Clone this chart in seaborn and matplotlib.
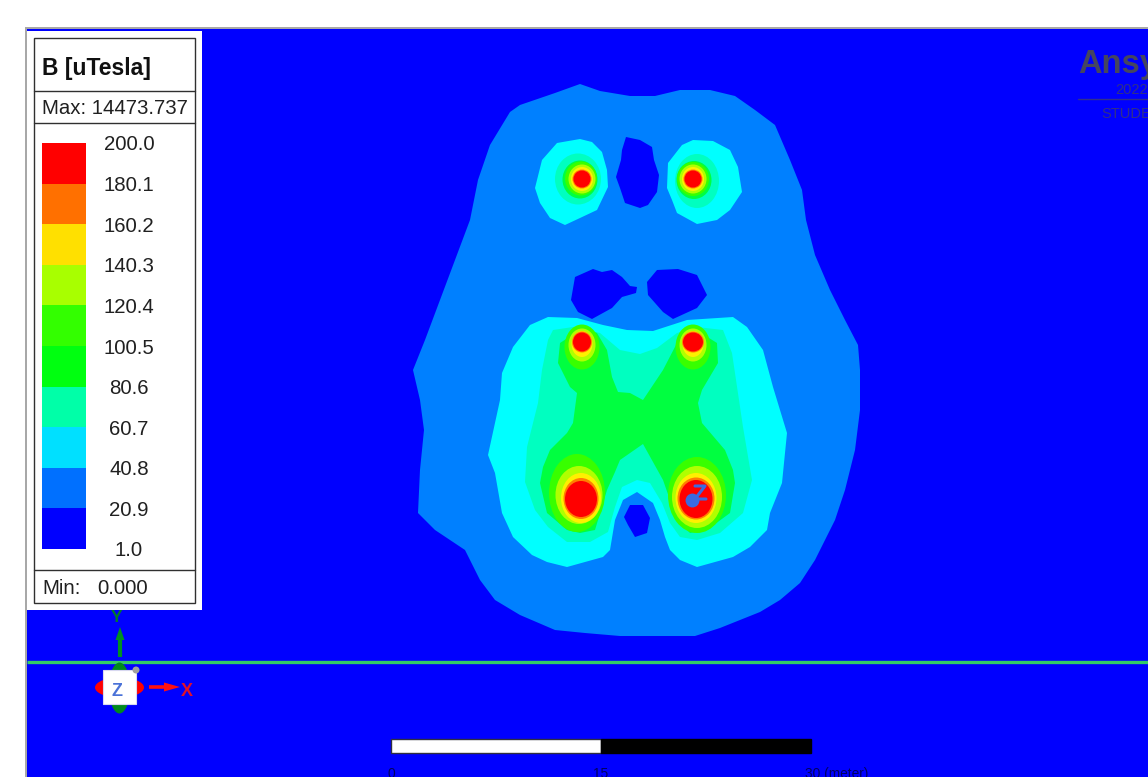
import numpy as np
import seaborn as sns
import matplotlib.pyplot as plt
from matplotlib.colors import ListedColormap
from matplotlib.patches import Ellipse, Rectangle

# legend
legend_labels = ['200.0', '180.1', '160.2', '140.3', '120.4', '100.5', '80.6', '60.7', '40.8', '20.9', '1.0']
legend_colors = ['#FF0000', '#FF7000', '#FFE000', '#A8FF00', '#33FF00', '#00FF10', '#00FFA8', '#00E0FF', '#0070FF', '#0000FF']
# field colours by band, low to high
band_colors = ['#0000FF', '#0080FF', '#00FFFF', '#00FFC0', '#00FF40', '#38FF00', '#B0FF00', '#FFF000', '#FF8000', '#FF0000']

# contour outlines, picture pixels
outer_band1 = [(580, 84), (600, 91), (630, 96), (655, 96), (680, 90), (710, 90), (735, 96), (755, 110), (775, 125),
               (790, 160), (802, 190), (806, 220), (815, 255), (830, 290), (845, 320), (858, 345), (860, 370),
               (860, 410), (855, 450), (845, 490), (835, 520), (815, 560), (800, 583), (780, 600), (760, 612),
               (720, 628), (695, 636), (620, 636), (585, 633), (555, 630), (520, 615), (495, 600), (480, 580),
               (465, 550), (435, 530), (418, 513), (420, 470), (424, 430), (420, 400), (413, 370), (425, 340),
               (440, 300), (455, 260), (470, 220), (478, 180), (490, 145), (510, 112), (520, 105), (555, 93)]
hole_eyes = [(626, 137), (640, 140), (652, 147), (654, 160), (659, 175), (657, 192), (648, 205), (640, 208),
             (625, 203), (620, 188), (616, 177), (621, 160), (622, 150)]
hole_left = [(593, 269), (602, 272), (612, 270), (622, 277), (630, 286), (637, 287), (636, 293), (622, 297),
             (612, 308), (592, 319), (578, 312), (571, 300), (575, 277)]
hole_right = [(657, 270), (678, 269), (697, 275), (707, 295), (697, 308), (673, 319), (663, 312), (648, 295), (647, 282)]
hole_low = [(630, 505), (643, 505), (650, 518), (647, 533), (635, 537), (628, 525), (624, 517)]

eye_left_band2 = [(580, 139), (592, 142), (602, 152), (607, 170), (608, 187), (597, 210), (580, 218), (565, 225),
                  (550, 218), (540, 203), (535, 188), (542, 160), (557, 143)]
eye_right_band2 = [(682, 145), (693, 140), (713, 141), (730, 150), (738, 167), (742, 192), (730, 210), (717, 220),
                   (697, 224), (677, 213), (672, 200), (667, 188), (668, 163)]

body_band2 = [(530, 325), (548, 317), (577, 318), (603, 325), (627, 330), (653, 331), (687, 320), (733, 317),
              (747, 327), (763, 350), (773, 387), (787, 433), (782, 483), (770, 513), (767, 530), (750, 547),
              (733, 557), (697, 567), (680, 560), (670, 550), (665, 537), (660, 520), (653, 503), (637, 492),
              (623, 500), (615, 520), (610, 550), (603, 557), (567, 567), (547, 562), (532, 555), (513, 537),
              (502, 513), (495, 473), (488, 455), (500, 400), (502, 373), (513, 347)]
body_band3 = [(553, 330), (573, 327), (600, 333), (620, 350), (640, 354), (657, 348), (677, 333), (697, 327),
              (723, 330), (732, 353), (743, 427), (752, 480), (743, 513), (720, 533), (697, 540), (680, 537),
              (670, 523), (662, 503), (650, 483), (637, 480), (622, 487), (615, 507), (608, 532), (590, 542),
              (567, 542), (548, 527), (535, 510), (525, 482), (527, 447), (538, 403), (542, 370), (548, 340)]
body_band4 = [(583, 328), (560, 343), (558, 363), (570, 387), (577, 393), (573, 423), (567, 433), (550, 450),
              (543, 467), (540, 483), (547, 513), (567, 530), (580, 533), (595, 530), (607, 490), (615, 472),
              (620, 460), (643, 444), (653, 462), (663, 480), (670, 500), (677, 520), (690, 533), (707, 530),
              (730, 513), (735, 483), (733, 470), (725, 450), (702, 423), (698, 403), (702, 390), (718, 363),
              (717, 343), (693, 328), (677, 343), (663, 370), (643, 400), (630, 393), (618, 392), (612, 377),
              (607, 350), (597, 333)]
body_bands = [body_band2, body_band3, body_band4]

# hot spots as rings: two eyes, two upper spots, two lower spots
ring_band = [3, 4, 5, 6, 7, 8, 9,  3, 4, 5, 6, 7, 8, 9,  5, 6, 7, 8, 9,  5, 6, 7, 8, 9,  5, 6, 7, 8, 9,  5, 6, 7, 8, 9]
ring_x = [578, 580, 581, 582, 582, 582, 582,  697, 694, 693, 693, 693, 693, 693,
          582, 582, 582, 582, 582,  693, 693, 693, 693, 693,
          577, 579, 581, 581, 581,  697, 697, 696, 696, 696]
ring_y = [179, 179.5, 178.5, 179, 179, 179, 179,  181, 180, 179, 179, 179, 179, 179,
          347, 345, 344, 342, 342,  347, 345, 344, 342, 342,
          493, 495, 498, 498.5, 499,  495, 497, 498, 498.5, 499]
ring_rx = [23, 17.5, 16, 13.5, 11, 9.5, 8.5,  22, 17.5, 16, 13.5, 11, 9.5, 8.5,
           17.5, 13.5, 10.5, 10, 9,  17.5, 13.5, 10.5, 11, 10,
           28, 23.5, 20, 17.5, 16,  29, 25, 20.5, 18.5, 16.5]
ring_ry = [25.5, 19, 17, 14.5, 12, 9.5, 8.5,  27, 19, 17, 14.5, 12, 9.5, 8.5,
           22.5, 16.5, 13, 10.5, 9.5,  22.5, 16.5, 13, 10.5, 9.5,
           39, 29, 25, 20.5, 18,  38, 31, 25, 21, 19]

sns.set_theme(style='white')
plt.rcParams['font.family'] = ['Liberation Sans', 'DejaVu Sans']

fig = plt.figure(figsize=(11.48, 7.77), dpi=100)
ax = fig.add_axes([0, 0, 1, 1])
ax.set_xlim(0, 1148)
ax.set_ylim(777, 0)
ax.axis('off')


def fill_outline(points, color):
    xs, ys = zip(*points)
    ax.fill(xs, ys, color=color, linewidth=0)


# window and background
ax.add_patch(Rectangle((25, 27), 1123, 750, color='#A8A8A8', lw=0))
ax.add_patch(Rectangle((27, 29), 1121, 748, color=band_colors[0], lw=0))

fill_outline(outer_band1, band_colors[1])
for hole in [hole_eyes, hole_left, hole_right, hole_low]:
    fill_outline(hole, band_colors[0])
fill_outline(eye_left_band2, band_colors[2])
fill_outline(eye_right_band2, band_colors[2])
for i, outline in enumerate(body_bands):
    fill_outline(outline, band_colors[i + 2])
for b, cx, cy, rx, ry in zip(ring_band, ring_x, ring_y, ring_rx, ring_ry):
    ax.add_patch(Ellipse((cx, cy), 2 * rx, 2 * ry, color=band_colors[b], lw=0))

# z axis mark on the lower right spot
ax.plot([695, 705, 695, 706], [486, 486, 499, 499], color='#3A6BE0', lw=2.2)
ax.plot([692], [500], 'o', color='#3A6BE0', ms=10, mew=0)

# logo
ax.text(1078, 64, 'Ansys', fontsize=23.5, fontweight='bold', color='#45455F', va='center', ha='left')
ax.text(1115, 89.5, '2022', fontsize=10.5, color='#30308A', va='center', ha='left')
ax.plot([1078, 1148], [99, 99], color='#30308C', lw=1)
ax.text(1101, 113.5, 'STUDENT', fontsize=10.5, color='#30308A', va='center', ha='left')

# green line and triad
ax.plot([27, 1148], [662, 662], color='#33CC66', lw=2.4, solid_capstyle='butt')
ax.add_patch(Ellipse((119.5, 687.5), 49, 20, color='#FF0000', lw=0, zorder=3))
ax.add_patch(Ellipse((119.5, 688), 21, 51, color='#008A1E', lw=0, zorder=3))
ax.add_patch(Rectangle((103, 670), 33, 34, facecolor='white', edgecolor='#D8D8F0', lw=0.8, zorder=4))
ax.add_patch(Ellipse((136, 670), 7, 7, color='#A0A0A0', lw=0, zorder=5))
ax.text(117, 691, 'Z', fontsize=13, fontweight='bold', color='#4A72D8', ha='center', va='center', zorder=5)
ax.plot([120, 120], [657, 638], color='#009020', lw=3, solid_capstyle='butt')
ax.fill([115.5, 120, 124.5], [640, 627, 640], color='#009020', lw=0)
ax.text(117, 617, 'Y', fontsize=12.5, fontweight='bold', color='#007A30', ha='center', va='center')
ax.plot([149, 172], [687, 687], color='#FF1010', lw=2.6, solid_capstyle='butt')
ax.fill([164, 180, 164], [682.5, 687, 691.5], color='#FF1010', lw=0)
ax.text(187, 691, 'X', fontsize=13, fontweight='bold', color='#E0102A', ha='center', va='center')

# scale bar
ax.add_patch(Rectangle((391, 739), 210, 14, facecolor='white', edgecolor='#303040', lw=1))
ax.add_patch(Rectangle((601, 739), 210, 14, facecolor='black', edgecolor='black', lw=1))
ax.text(391, 774, '0', fontsize=9.9, color='#000060', ha='center', va='center')
ax.text(601, 774, '15', fontsize=9.9, color='#000060', ha='center', va='center')
ax.text(805, 774, '30 (meter)', fontsize=9.9, color='#000060', ha='left', va='center')

# legend panel
ax.add_patch(Rectangle((27, 31), 175, 579, color='white', lw=0, zorder=6))
ax.add_patch(Rectangle((34, 38), 161, 565, facecolor='white', edgecolor='#303030', lw=1, zorder=7))
for y in [91, 123, 570]:
    ax.plot([34, 195], [y, y], color='#303030', lw=1, zorder=8)
ax.text(42, 68, 'B [uTesla]', fontsize=16.5, fontweight='bold', color='#101010', va='center', zorder=8)
ax.text(42, 108.5, 'Max: 14473.737', fontsize=14.7, color='#202020', va='center', zorder=8)
ax.text(42, 588.5, 'Min:', fontsize=14.7, color='#202020', va='center', zorder=8)
ax.text(97, 588.5, '0.000', fontsize=14.7, color='#202020', va='center', zorder=8)
for k, lab in enumerate(legend_labels):
    ax.text(129, 145 + k * 40.6, lab, fontsize=14.7, color='#202020', ha='center', va='center', zorder=8)

# colour key
cax = fig.add_axes([42 / 1148, 1 - 549 / 777, 44 / 1148, 406 / 777], zorder=5)
key = np.arange(len(legend_colors)).reshape(-1, 1)
sns.heatmap(key, cmap=ListedColormap(legend_colors), cbar=False, xticklabels=False, yticklabels=False, ax=cax)

fig.savefig('out.png', dpi=100)
